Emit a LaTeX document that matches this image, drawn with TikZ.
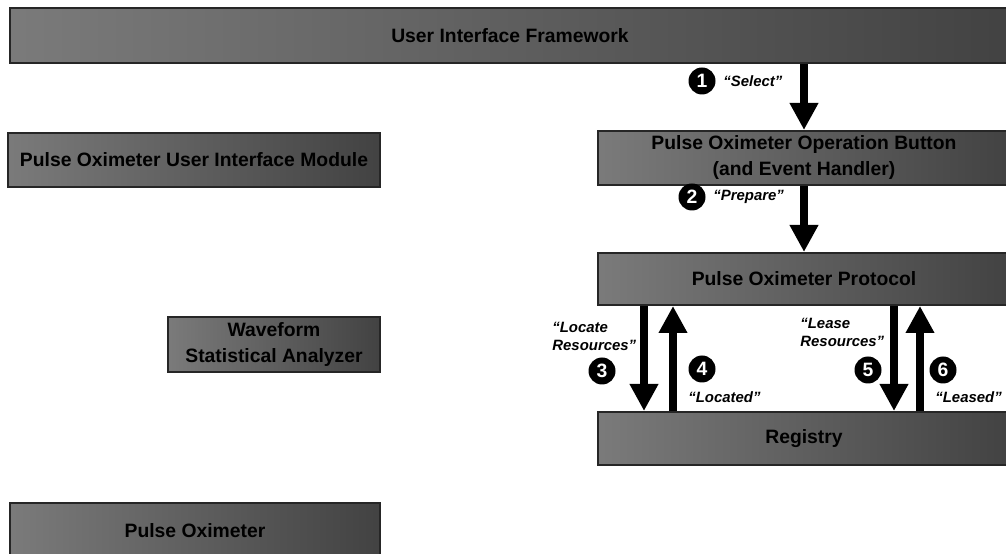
\documentclass[tikz,border=0pt]{standalone}
\usepackage{fontspec}
\setmainfont{Liberation Sans}
\usetikzlibrary{arrows.meta,positioning,calc}
\tikzset{
  block/.style={draw=black!85, line width=0.4mm, left color=black!52, middle color=black!20, right color=black!74,
    font=\bfseries\fontsize{11}{14.8}\selectfont, align=center, inner sep=0pt},
  flow/.style={-{Triangle[width=5.4mm,length=5.4mm]}, line width=1.7mm},
  num/.style={circle, fill=black, text=white, minimum size=5.4mm, inner sep=0pt, font=\bfseries\fontsize{11}{11}\selectfont},
  msg/.style={font=\bfseries\itshape\fontsize{8.5}{10.2}\selectfont, align=left, inner sep=0pt, anchor=west}
}

\begin{document}
\begin{tikzpicture}[x=0.2mm, y=-0.2mm]
  \useasboundingbox (0,0) rectangle (1006,554);
  \fill[white] (0,0) rectangle (1006,554);

  % boxes
  \node[block, minimum width=200mm, minimum height=11mm] (uif) at (510,35.5) {User Interface Framework};
  \node[block, minimum width=82.4mm, minimum height=10.8mm] (pob) at (804,158) {Pulse Oximeter Operation Button\\(and Event Handler)};
  \node[block, minimum width=82.4mm, minimum height=10.4mm] (pop) at (804,279) {Pulse Oximeter Protocol};
  \node[block, minimum width=82.4mm, minimum height=10.6mm] (reg) at (804,438.5) {Registry};
  \node[block, minimum width=74.4mm, minimum height=10.8mm] (puim) at (194,160) {Pulse Oximeter User Interface Module};
  \node[block, minimum width=42.4mm, minimum height=11mm] (wsa) at (274,344.5) {Waveform\\Statistical Analyzer};
  \node[block, minimum width=74mm, minimum height=11mm] (po) at (195,530.5) {Pulse Oximeter};

  % arrows
  \coordinate (x3) at (644,0);
  \coordinate (x4) at (673,0);
  \coordinate (x5) at (894,0);
  \coordinate (x6) at (920,0);
  \draw[flow] (uif.south -| pob) -- (pob.north);
  \draw[flow] (pob.south) -- (pop.north);
  \draw[flow] (pop.south -| x3) -- (reg.north -| x3);
  \draw[flow] (reg.north -| x4) -- (pop.south -| x4);
  \draw[flow] (pop.south -| x5) -- (reg.north -| x5);
  \draw[flow] (reg.north -| x6) -- (pop.south -| x6);

  % steps
  \node[num] (n1) at (702,81) {1};
  \node[msg] (m1) at (723,81) {“Select”};
  \node[num] (n2) at (692,197) {2};
  \node[msg] (m2) at (713,197) {“Prepare”};
  \node[msg] (m3) at (552,336) {“Locate\\Resources”};
  \node[num] (n3) at (602,371) {3};
  \node[num] (n4) at (702,369) {4};
  \node[msg] (m4) at (688,397) {“Located”};
  \node[msg] (m5) at (800,332) {“Lease\\Resources”};
  \node[num] (n5) at (868,370) {5};
  \node[num] (n6) at (943,370) {6};
  \node[msg] (m6) at (935,397) {“Leased”};
\end{tikzpicture}
\end{document}
